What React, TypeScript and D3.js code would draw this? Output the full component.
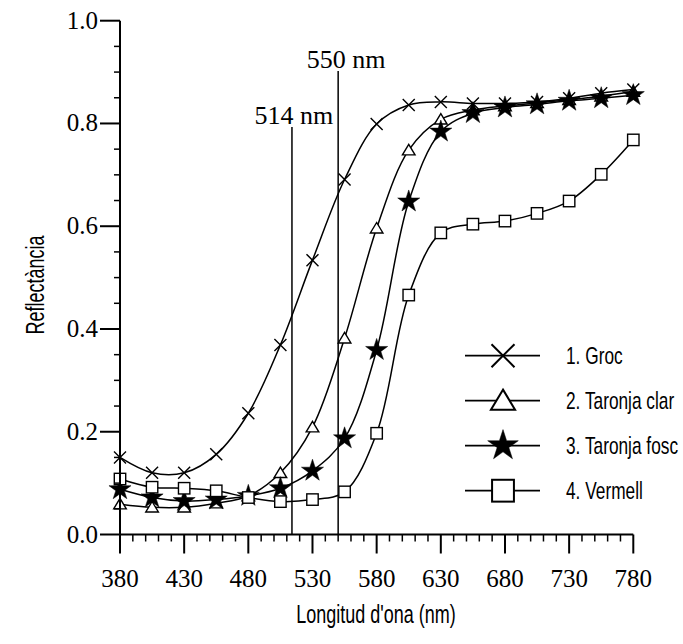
import React from "react";
import * as d3 from "d3";

const wavelengths = [380, 405, 430, 455, 480, 505, 530, 555, 580, 605, 630, 655, 680, 705, 730, 755, 780];
const groc = [0.150, 0.120, 0.120, 0.156, 0.236, 0.369, 0.534, 0.691, 0.799, 0.836, 0.842, 0.839, 0.839, 0.842, 0.849, 0.859, 0.866];
const taronjaClar = [0.059, 0.053, 0.053, 0.061, 0.075, 0.120, 0.209, 0.382, 0.596, 0.748, 0.808, 0.826, 0.834, 0.840, 0.846, 0.853, 0.862];
const taronjaFosc = [0.088, 0.072, 0.065, 0.068, 0.075, 0.090, 0.124, 0.187, 0.359, 0.648, 0.784, 0.820, 0.831, 0.837, 0.844, 0.849, 0.855];
const vermell = [0.108, 0.092, 0.090, 0.085, 0.072, 0.064, 0.068, 0.083, 0.197, 0.466, 0.587, 0.604, 0.610, 0.625, 0.649, 0.701, 0.768];
const seriesNames = ["1. Groc", "2. Taronja clar", "3. Taronja fosc", "4. Vermell"];
const markerKinds = ["x", "triangle", "star", "square"];
const xTicks = [380, 430, 480, 530, 580, 630, 680, 730, 780];
const yTicks = [0, 0.2, 0.4, 0.6, 0.8, 1.0];
const refLines = [514, 550];
const refLabels = ["514 nm", "550 nm"];

const serif = "'Liberation Serif', 'Times New Roman', serif";
const sans = "'Liberation Sans', Arial, sans-serif";

function Marker({ kind, x, y, s, legend }: { kind: string; x: number; y: number; s: number; legend?: boolean }) {
  const sw = legend ? 2 : 1.4;
  if (kind === "x") {
    const r = s;
    return (
      <path d={`M${x - r},${y - r}L${x + r},${y + r}M${x - r},${y + r}L${x + r},${y - r}`} stroke="#000" strokeWidth={sw} fill="none" />
    );
  }
  if (kind === "triangle") {
    const w = s * 1.05, h = s * 1.75;
    return (
      <path d={`M${x},${y - h * 0.55}L${x + w},${y + h * 0.45}L${x - w},${y + h * 0.45}Z`} stroke="#000" strokeWidth={sw} fill="#fff" />
    );
  }
  if (kind === "square") {
    const r = s * 0.95;
    return <rect x={x - r} y={y - r} width={2 * r} height={2 * r} stroke="#000" strokeWidth={sw} fill="#fff" />;
  }
  const star = d3.symbol().type(d3.symbolStar).size(s * s * (legend ? 2.2 : 4.2))();
  return <path d={star as string} transform={`translate(${x},${y})`} fill="#000" stroke="#000" strokeWidth={0.5} />;
}

export default function App() {
  const W = 683, H = 644;
  const x = d3.scaleLinear().domain([380, 780]).range([120, 633.3]);
  const y = d3.scaleLinear().domain([0, 1]).range([534.5, 20.7]);
  const allSeries = [groc, taronjaClar, taronjaFosc, vermell];
  const line = d3
    .line<[number, number]>()
    .x((d) => x(d[0]))
    .y((d) => y(d[1]))
    .curve(d3.curveCatmullRom.alpha(0.5));

  const xMinor = d3.range(380, 781, 10).filter((v) => !xTicks.includes(v));
  const yMinor = d3.range(0, 1.0001, 0.05).filter((v) => !yTicks.some((t) => Math.abs(t - v) < 1e-6));

  const legendY = [355.7, 400.7, 445.7, 490.7];
  const refTop = [127, 71];
  const refLabelDx = [2, 8];

  return (
    <svg width={W} height={H} style={{ display: "block", position: "absolute", left: 0, top: 0, background: "#fff" }}>
      {/* reference lines */}
      {refLines.map((r, i) => (
        <g key={r}>
          <line x1={x(r)} x2={x(r)} y1={y(0)} y2={refTop[i]} stroke="#000" strokeWidth={1.5} />
          <text x={x(r) + refLabelDx[i]} y={refTop[i] - 3} fontFamily={serif} fontSize={26} textAnchor="middle">{refLabels[i]}</text>
        </g>
      ))}

      {/* curves */}
      {allSeries.map((vals, i) => (
        <path
          key={i}
          d={line(vals.map((v, j) => [wavelengths[j], v] as [number, number])) as string}
          fill="none"
          stroke="#000"
          strokeWidth={1.5}
        />
      ))}
      {allSeries.map((vals, i) =>
        vals.map((v, j) => (
          <Marker key={`${i}-${j}`} kind={markerKinds[i]} x={x(wavelengths[j])} y={y(v)} s={6} />
        ))
      )}

      {/* axes */}
      <line x1={x(380)} x2={x(780)} y1={y(0)} y2={y(0)} stroke="#000" strokeWidth={2} />
      <line x1={x(380)} x2={x(380)} y1={y(0)} y2={y(1)} stroke="#000" strokeWidth={2} />
      {xTicks.map((t) => (
        <g key={t}>
          <line x1={x(t)} x2={x(t)} y1={y(0)} y2={y(0) + 19} stroke="#000" strokeWidth={2} />
          <text x={x(t)} y={587} fontFamily={serif} fontSize={25} textAnchor="middle">{t}</text>
        </g>
      ))}
      {xMinor.map((t) => (
        <line key={t} x1={x(t)} x2={x(t)} y1={y(0)} y2={y(0) + 7} stroke="#000" strokeWidth={1.5} />
      ))}
      {yTicks.map((t) => (
        <g key={t}>
          <line x1={x(380) - 20} x2={x(380)} y1={y(t)} y2={y(t)} stroke="#000" strokeWidth={2} />
          <text x={98} y={y(t) + 8} fontFamily={serif} fontSize={25} textAnchor="end">{t.toFixed(1)}</text>
        </g>
      ))}
      {yMinor.map((t) => (
        <line key={t} x1={x(380) - 6} x2={x(380)} y1={y(t)} y2={y(t)} stroke="#000" strokeWidth={1.5} />
      ))}

      {/* axis titles */}
      <text transform="translate(376,623) scale(0.72,1)" fontFamily={sans} fontSize={25} textAnchor="middle">Longitud d'ona (nm)</text>
      <text transform="translate(44,285) rotate(-90) scale(0.72,1)" fontFamily={sans} fontSize={25} textAnchor="middle">Reflectància</text>

      {/* legend */}
      {seriesNames.map((name, i) => (
        <g key={name}>
          <line x1={465} x2={540} y1={legendY[i]} y2={legendY[i]} stroke="#000" strokeWidth={1.8} />
          <Marker kind={markerKinds[i]} x={503} y={legendY[i]} s={11.5} legend />
          <text transform={`translate(566,${legendY[i] + 8.5}) scale(0.72,1)`} fontFamily={sans} fontSize={24}>{name}</text>
        </g>
      ))}
    </svg>
  );
}
